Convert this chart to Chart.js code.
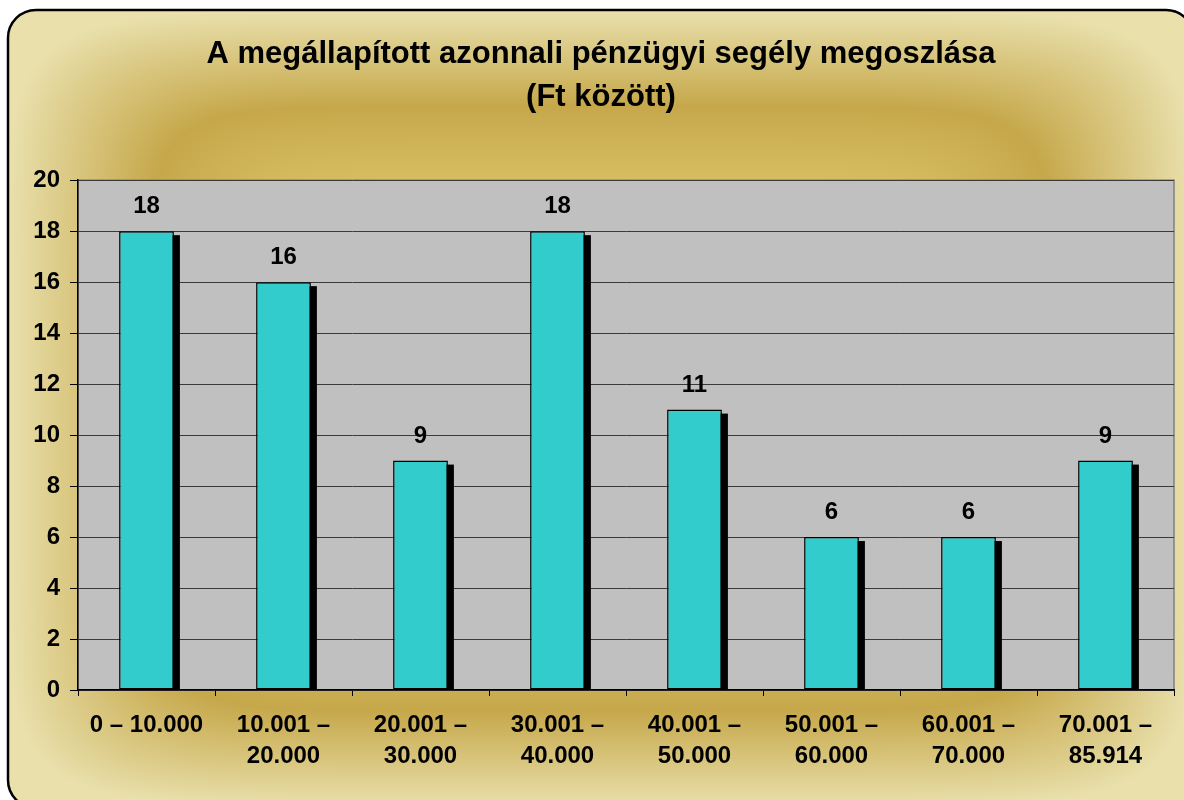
<!DOCTYPE html>
<html>
<head>
<meta charset="utf-8">
<script src="https://cdn.jsdelivr.net/npm/chart.js@4/dist/chart.umd.min.js"></script>
<style>
  html, body { margin: 0; padding: 0; background: #fff; }
  canvas { display: block; }
</style>
</head>
<body>
<canvas id="chart" width="1184" height="800"></canvas>
<script>
  const categories = [
    "0 – 10.000",
    ["10.001 –", "20.000"],
    ["20.001 –", "30.000"],
    ["30.001 –", "40.000"],
    ["40.001 –", "50.000"],
    ["50.001 –", "60.000"],
    ["60.001 –", "70.000"],
    ["70.001 –", "85.914"]
  ];
  const counts = [18, 16, 9, 18, 11, 6, 6, 9];
  const titleLines = ["A megállapított azonnali pénzügyi segély megoszlása", "(Ft között)"];

  const FONT = "'Liberation Sans', Arial, sans-serif";

  // golden frame background
  let bgCache = null;
  function mix(a, b, t) {
    return [a[0] + (b[0] - a[0]) * t, a[1] + (b[1] - a[1]) * t, a[2] + (b[2] - a[2]) * t];
  }
  function goldAt(t) {
    const edge = [233, 224, 172], dark = [198, 168, 75], mid = [217, 192, 100], inner = [222, 200, 112];
    if (t >= 0.76) return mix(dark, edge, (t - 0.76) / 0.24);
    if (t >= 0.55) return mix(mid, dark, (t - 0.55) / 0.21);
    return mix(inner, mid, t / 0.55);
  }
  function buildBg(w, h) {
    const c = document.createElement("canvas");
    c.width = w; c.height = h;
    const g = c.getContext("2d");
    const img = g.createImageData(w, h);
    const cx = 600, cy = 408, hw = 592, hh = 398;
    for (let y = 0; y < h; y++) {
      const ay = Math.abs(y - cy) / hh;
      for (let x = 0; x < w; x++) {
        const ax = Math.abs(x - cx) / hw;
        const t = Math.pow(Math.pow(ax, 8) + Math.pow(ay, 8), 1 / 8);
        const col = goldAt(Math.min(1, t));
        const i = (y * w + x) * 4;
        img.data[i] = col[0]; img.data[i + 1] = col[1]; img.data[i + 2] = col[2]; img.data[i + 3] = 255;
      }
    }
    g.putImageData(img, 0, 0);
    return c;
  }

  function roundRect(ctx, x, y, w, h, r) {
    ctx.beginPath();
    ctx.moveTo(x + r, y);
    ctx.lineTo(x + w - r, y);
    ctx.arcTo(x + w, y, x + w, y + r, r);
    ctx.lineTo(x + w, y + h - r);
    ctx.arcTo(x + w, y + h, x + w - r, y + h, r);
    ctx.lineTo(x + r, y + h);
    ctx.arcTo(x, y + h, x, y + h - r, r);
    ctx.lineTo(x, y + r);
    ctx.arcTo(x, y, x + r, y, r);
    ctx.closePath();
  }

  const framePlugin = {
    id: "frame",
    beforeDraw(chart) {
      const ctx = chart.ctx;
      const a = chart.chartArea;
      if (!bgCache) bgCache = buildBg(chart.width, chart.height);
      ctx.save();
      ctx.fillStyle = "#fff";
      ctx.fillRect(0, 0, chart.width, chart.height);
      roundRect(ctx, 8, 10, 1186, 798, 28);
      ctx.save();
      ctx.clip();
      ctx.drawImage(bgCache, 0, 0);
      ctx.restore();
      ctx.lineWidth = 2.5;
      ctx.strokeStyle = "#000";
      ctx.stroke();
      // plot area
      ctx.fillStyle = "#c0c0c0";
      ctx.fillRect(a.left, a.top, a.right - a.left, a.bottom - a.top);
      ctx.strokeStyle = "#808080";
      ctx.lineWidth = 1.5;
      ctx.strokeRect(a.left, a.top, a.right - a.left, a.bottom - a.top);
      ctx.restore();
    }
  };

  const shadowPlugin = {
    id: "barShadow",
    beforeDatasetsDraw(chart) {
      const ctx = chart.ctx;
      const a = chart.chartArea;
      ctx.save();
      ctx.beginPath();
      ctx.rect(a.left, a.top, a.right - a.left, a.bottom - a.top);
      ctx.clip();
      ctx.fillStyle = "#000";
      chart.getDatasetMeta(0).data.forEach(bar => {
        const p = bar.getProps(["x", "y", "base", "width"], true);
        ctx.fillRect(p.x - p.width / 2 + 6, p.y + 4, p.width, p.base - p.y);
      });
      ctx.restore();
    }
  };

  const valueLabels = {
    id: "valueLabels",
    afterDatasetsDraw(chart) {
      const ctx = chart.ctx;
      ctx.save();
      ctx.font = "bold 24px " + FONT;
      ctx.fillStyle = "#000";
      ctx.textAlign = "center";
      ctx.textBaseline = "alphabetic";
      chart.getDatasetMeta(0).data.forEach((bar, i) => {
        const p = bar.getProps(["x", "y"], true);
        ctx.fillText(counts[i], p.x, p.y - 18);
      });
      ctx.restore();
    }
  };

  new Chart(document.getElementById("chart"), {
    type: "bar",
    data: {
      labels: categories,
      datasets: [{
        data: counts,
        backgroundColor: "#33cccc",
        borderColor: "#000",
        borderWidth: 1.5,
        borderSkipped: false,
        barPercentage: 0.4,
        categoryPercentage: 1
      }]
    },
    options: {
      responsive: false,
      animation: false,
      events: [],
      layout: { padding: { left: 28, right: 10, top: 0, bottom: 0 } },
      plugins: {
        legend: { display: false },
        tooltip: { enabled: false },
        title: {
          display: true,
          text: titleLines,
          color: "#000",
          font: { family: FONT, size: 31, weight: "bold", lineHeight: 1.39 },
          padding: { top: 33, bottom: 61 }
        }
      },
      scales: {
        x: {
          afterFit(scale) { scale.height = 110; },
          grid: {
            offset: true,
            drawOnChartArea: false,
            tickLength: 6,
            tickColor: "#000",
            tickWidth: 1
          },
          border: { color: "#000", width: 1.5 },
          ticks: {
            color: "#000",
            padding: 14,
            maxRotation: 0,
            autoSkip: false,
            font: { family: FONT, size: 24, weight: "bold", lineHeight: 1.3 }
          }
        },
        y: {
          min: 0,
          max: 20,
          afterFit(scale) { scale.width = 50; },
          grid: {
            color: "#3a3a3a",
            lineWidth: 1,
            tickLength: 8,
            tickColor: "#000"
          },
          border: { color: "#000", width: 1.5 },
          ticks: {
            stepSize: 2,
            color: "#000",
            padding: 10,
            font: { family: FONT, size: 24, weight: "bold" }
          }
        }
      }
    },
    plugins: [framePlugin, shadowPlugin, valueLabels]
  });
</script>
</body>
</html>
